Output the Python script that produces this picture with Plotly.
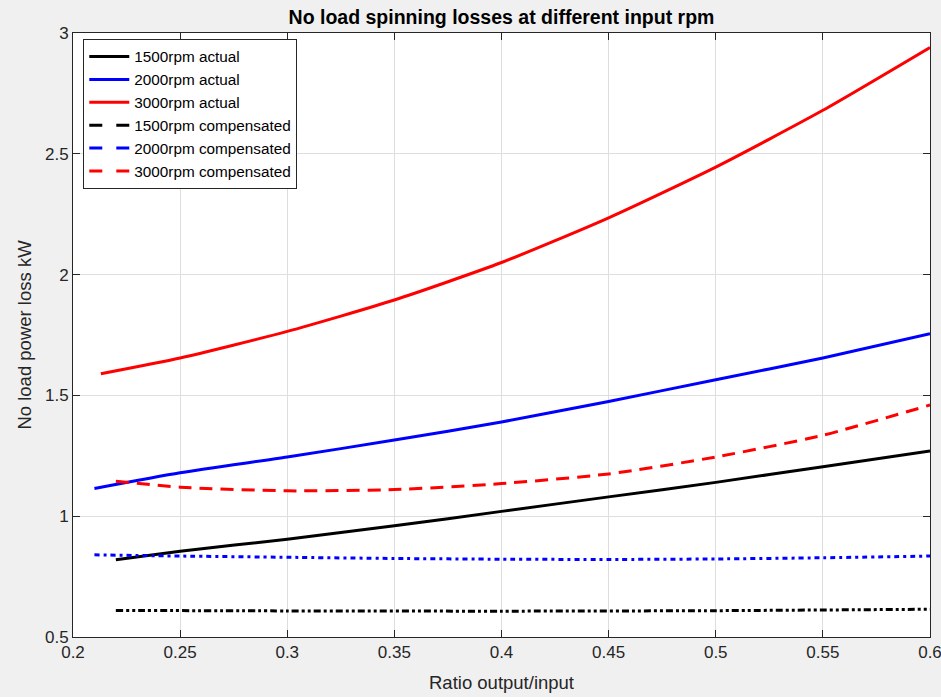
import plotly.graph_objects as go

# Data
x_red_act = [0.213, 0.25, 0.30, 0.35, 0.40, 0.45, 0.50, 0.55, 0.60]
y_red_act = [1.59, 1.655, 1.765, 1.895, 2.05, 2.235, 2.445, 2.68, 2.94]

x_blue_act = [0.21, 0.25, 0.30, 0.35, 0.40, 0.45, 0.50, 0.55, 0.60]
y_blue_act = [1.115, 1.18, 1.245, 1.315, 1.39, 1.475, 1.565, 1.655, 1.755]

x_black_act = [0.22, 0.25, 0.30, 0.35, 0.40, 0.45, 0.50, 0.55, 0.60]
y_black_act = [0.82, 0.855, 0.905, 0.96, 1.02, 1.08, 1.14, 1.205, 1.27]

x_red_comp = [0.22, 0.25, 0.30, 0.35, 0.40, 0.45, 0.50, 0.55, 0.60]
y_red_comp = [1.145, 1.12, 1.105, 1.11, 1.135, 1.175, 1.245, 1.335, 1.46]

x_blue_comp = [0.21, 0.25, 0.30, 0.35, 0.40, 0.45, 0.50, 0.55, 0.60]
y_blue_comp = [0.84, 0.835, 0.83, 0.825, 0.822, 0.821, 0.823, 0.828, 0.835]

x_black_comp = [0.22, 0.30, 0.40, 0.50, 0.60]
y_black_comp = [0.61, 0.608, 0.607, 0.609, 0.615]

x_ticks = [0.2, 0.25, 0.3, 0.35, 0.4, 0.45, 0.5, 0.55, 0.6]
x_ticklabels = ["0.2", "0.25", "0.3", "0.35", "0.4", "0.45", "0.5", "0.55", "0.6"]
y_ticks = [0.5, 1, 1.5, 2, 2.5, 3]
y_ticklabels = ["0.5", "1", "1.5", "2", "2.5", "3"]

# name, x, y, color, plot dash, legend dash
series = [
    ("1500rpm actual", x_black_act, y_black_act, "#000000", "solid", "solid"),
    ("2000rpm actual", x_blue_act, y_blue_act, "#0000ff", "solid", "solid"),
    ("3000rpm actual", x_red_act, y_red_act, "#ff0000", "solid", "solid"),
    ("1500rpm compensated", x_black_comp, y_black_comp, "#000000", "7px,3px,3px,3px,3px,3px", "13px,14px"),
    ("2000rpm compensated", x_blue_comp, y_blue_comp, "#0000ff", "5px,4px,3px,4px", "13px,14px"),
    ("3000rpm compensated", x_red_comp, y_red_comp, "#ff0000", "13px,8px", "13px,14px"),
]

fig = go.Figure()
for name, xs, ys, color, dash, ldash in series:
    fig.add_trace(go.Scatter(
        x=xs, y=ys, mode="lines", name=name, showlegend=False, hoverinfo="skip",
        line=dict(color=color, width=3, dash=dash, shape="spline", smoothing=0.6),
    ))
# legend entries (no data of their own)
for name, xs, ys, color, dash, ldash in series:
    fig.add_trace(go.Scatter(
        x=[None], y=[None], mode="lines", name=name, showlegend=True,
        line=dict(color=color, width=3, dash=ldash),
    ))

font_family = "Liberation Sans, Arial, sans-serif"
fig.update_layout(
    width=941, height=697,
    paper_bgcolor="#f0f0f0",
    plot_bgcolor="#ffffff",
    margin=dict(l=73, r=11, t=33, b=60),
    font=dict(family=font_family, size=17, color="#262626"),
    title=dict(text="<b>No load spinning losses at different input rpm</b>",
               x=0.5, xref="paper", xanchor="center",
               y=1 - 17 / 697, yref="container", yanchor="middle",
               font=dict(size=19.5, color="#000000")),
    showlegend=True,
    legend=dict(x=0.012, y=0.99, xanchor="left", yanchor="top",
                bgcolor="#ffffff", bordercolor="#262626", borderwidth=1,
                font=dict(size=15.3, color="#000000"),
                tracegroupgap=0, itemwidth=40),
)
fig.update_xaxes(
    range=[0.2, 0.6], tickvals=x_ticks, ticktext=x_ticklabels,
    ticklabeloverflow="allow", automargin=False,
    showgrid=True, gridcolor="#dedede", gridwidth=1,
    showline=True, linecolor="#262626", linewidth=1, mirror="ticks",
    ticks="inside", ticklen=7, tickcolor="#262626",
    zeroline=False,
    title=dict(text="Ratio output/input", font=dict(size=18.5, color="#262626"), standoff=14),
)
fig.update_yaxes(
    range=[0.5, 3], tickvals=y_ticks, ticktext=y_ticklabels,
    ticklabeloverflow="allow", automargin=False,
    showgrid=True, gridcolor="#dedede", gridwidth=1,
    showline=True, linecolor="#262626", linewidth=1, mirror="ticks",
    ticks="inside", ticklen=7, tickcolor="#262626",
    zeroline=False,
    title=dict(text="No load power loss kW", font=dict(size=18.5, color="#262626"), standoff=8),
)

fig.write_html("out.html",
               config={"displayModeBar": False},
               post_script="document.body.style.margin='0';document.body.style.overflow='hidden';")
